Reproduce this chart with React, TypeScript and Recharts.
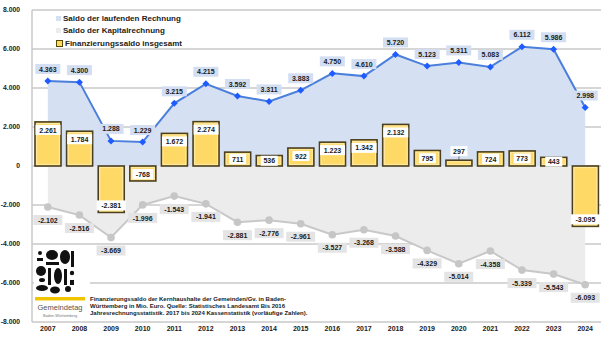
import React from 'react';
import {
  ComposedChart,
  Area,
  Bar,
  XAxis,
  YAxis,
  CartesianGrid,
  Legend
} from 'recharts';

const years = ['2007', '2008', '2009', '2010', '2011', '2012', '2013', '2014', '2015', '2016', '2017', '2018', '2019', '2020', '2021', '2022', '2023', '2024'];
const laufend = [4363, 4300, 1288, 1229, 3215, 4215, 3592, 3311, 3883, 4750, 4610, 5720, 5123, 5311, 5083, 6112, 5986, 2998];
const kapital = [-2102, -2516, -3669, -1996, -1543, -1941, -2881, -2776, -2961, -3527, -3268, -3588, -4329, -5014, -4358, -5339, -5543, -6093];
const finanz = [2261, 1784, -2381, -768, 1672, 2274, 711, 536, 922, 1223, 1342, 2132, 795, 297, 724, 773, 443, -3095];
const yTicks = [-8000, -6000, -4000, -2000, 0, 2000, 4000, 6000, 8000];

const legendItems = [
  { label: 'Saldo der laufenden Rechnung', fill: '#d6e0f3', stroke: 'none' },
  { label: 'Saldo der Kapitalrechnung', fill: '#ececec', stroke: 'none' },
  { label: 'Finanzierungssaldo insgesamt', fill: '#ffd966', stroke: '#5a4a00' }
];

const data = years.map((year, i) => ({
  year,
  laufend: laufend[i],
  kapital: kapital[i],
  finanz: finanz[i]
}));

const FONT = '"Liberation Sans", Arial, sans-serif';

const fmt = (v: number) => {
  const s = Math.abs(v).toString().replace(/\B(?=(\d{3})+(?!\d))/g, '.');
  return (v < 0 ? '-' : '') + s;
};

const BoxLabel = ({ cx, cy, text, fill }: { cx: number; cy: number; text: string; fill: string }) => {
  const w = text.length * 4 + 5;
  return (
    <g>
      <rect x={cx - w / 2} y={cy - 5} width={w} height={10} fill={fill} />
      <text x={cx} y={cy} dy={2.6} textAnchor="middle" fontSize={7} fontWeight={700} fontFamily={FONT} fill="#1a1a1a">
        {text}
      </text>
    </g>
  );
};

const blueDot = (props: any) => {
  const { cx, cy, payload, index } = props;
  if (cx == null || cy == null) return <g key={`bd-${index}`} />;
  return (
    <g key={`bd-${index}`}>
      <path d={`M${cx},${cy - 3.5} L${cx + 3.5},${cy} L${cx},${cy + 3.5} L${cx - 3.5},${cy} Z`} fill="#1f5cff" />
      <BoxLabel cx={cx} cy={cy - 12} text={fmt(payload.laufend)} fill="#d3def2" />
    </g>
  );
};

const greyDot = (props: any) => {
  const { cx, cy, payload, index } = props;
  if (cx == null || cy == null) return <g key={`gd-${index}`} />;
  return (
    <g key={`gd-${index}`}>
      <circle cx={cx} cy={cy} r={3.8} fill="#c6c6c6" />
      <BoxLabel cx={cx} cy={cy + 13} text={fmt(payload.kapital)} fill="#e4e4e4" />
    </g>
  );
};

const FinanzBar = (props: any) => {
  const { x, y, width, height, payload, index } = props;
  const top = Math.min(y, y + height);
  const h = Math.abs(height);
  const v = payload.finanz;
  let labelY = top + 8;
  if (v < 0) labelY = top + h - 7;
  else if (h < 7) labelY = top - 9;
  else if (h < 16) labelY = top + h / 2;
  return (
    <g key={`fb-${index}`}>
      <rect x={x} y={top} width={width} height={h} fill="#ffd966" stroke="#4a4020" strokeWidth={1.6} />
      <rect x={x + 1.6} y={top + 1.6} width={Math.max(width - 3.2, 0)} height={Math.max(h - 3.2, 0)} fill="none" stroke="#ffe9a6" strokeWidth={1} />
      {v > 0 && h < 7 && <line x1={x + width / 2} x2={x + width / 2} y1={labelY + 5} y2={top} stroke="#555" strokeWidth={0.8} />}
      <BoxLabel cx={x + width / 2} cy={labelY} text={fmt(v)} fill="#ffffff" />
    </g>
  );
};

const renderLegend = () => (
  <div style={{ fontFamily: FONT, fontSize: 8, fontWeight: 700, color: '#222' }}>
    {legendItems.map(item => (
      <div key={item.label} style={{ display: 'flex', alignItems: 'center', height: 12.5 }}>
        <span style={{
          display: 'inline-block',
          width: 5,
          height: 5,
          background: item.fill,
          border: item.stroke === 'none' ? 'none' : `1px solid ${item.stroke}`,
          marginRight: 2
        }} />
        {item.label}
      </div>
    ))}
  </div>
);

const Logo = () => (
  <svg width={56} height={72} style={{ display: 'block' }}>
    <rect x={0} y={0} width={56} height={72} fill="#fff" />
    <g fill="#111">
      <circle cx={6} cy={5} r={2} />
      <rect x={3} y={10} width={6} height={3} />
      <ellipse cx={18} cy={7} rx={6} ry={5} />
      <rect x={12} y={14} width={13} height={3} />
      <ellipse cx={31} cy={9} rx={5} ry={7} />
      <rect x={37} y={3} width={3} height={16} />
      <ellipse cx={7} cy={23} rx={5} ry={5} />
      <rect x={14} y={20} width={3} height={17} />
      <ellipse cx={24} cy={28} rx={4} ry={8} />
      <rect x={30} y={21} width={3} height={16} />
      <circle cx={38} cy={25} r={2.2} />
      <ellipse cx={8} cy={40} rx={6} ry={3} />
      <ellipse cx={21} cy={42} rx={5} ry={3.5} />
      <circle cx={34} cy={41} r={3} />
      <ellipse cx={8} cy={32} rx={3} ry={2} />
      <rect x={36} y={32} width={4} height={5} />
    </g>
    <rect x={1} y={49} width={50} height={3.5} fill="#f2c400" />
    <text x={26} y={62} textAnchor="middle" fontSize={7.5} fontFamily={FONT} fill="#555">Gemeindetag</text>
    <text x={26} y={69} textAnchor="middle" fontSize={3.8} fontFamily={FONT} fill="#777">Baden-Württemberg</text>
  </svg>
);

export default function App() {
  return (
    <div style={{ position: 'fixed', left: 0, top: 0, width: 608, height: 342, background: '#fff' }}>
      <ComposedChart
        width={608}
        height={342}
        data={data}
        margin={{ top: 10, right: 7, left: 0, bottom: 0 }}
        barCategoryGap="10%"
      >
        <CartesianGrid vertical={false} stroke="#c8c8c8" strokeWidth={1.5} />
        <XAxis
          dataKey="year"
          height={20}
          axisLine={false}
          tickLine={false}
          tickSize={0}
          tickMargin={4}
          tick={{ fontSize: 7, fontWeight: 700, fill: '#1a1a1a', fontFamily: FONT }}
          interval={0}
        />
        <YAxis
          width={32}
          domain={[-8000, 8000]}
          ticks={yTicks}
          interval={0}
          tickFormatter={fmt}
          axisLine={{ stroke: '#c8c8c8', strokeWidth: 1.5 }}
          tickLine={false}
          tickMargin={6}
          tick={{ fontSize: 6.8, fontWeight: 700, fill: '#1a1a1a', fontFamily: FONT }}
        />
        <Legend
          layout="vertical"
          align="center"
          verticalAlign="middle"
          content={renderLegend}
          wrapperStyle={{ top: 12, left: 56, width: 200, height: 40 }}
        />
        <Area
          type="linear"
          dataKey="laufend"
          stroke="#4a7fdc"
          strokeWidth={2}
          fill="#d6e0f3"
          fillOpacity={1}
          dot={blueDot}
          activeDot={false}
          isAnimationActive={false}
        />
        <Area
          type="linear"
          dataKey="kapital"
          stroke="#c8c8c8"
          strokeWidth={2}
          fill="#ececec"
          fillOpacity={1}
          dot={greyDot}
          activeDot={false}
          isAnimationActive={false}
        />
        <Bar dataKey="finanz" barSize={26} shape={FinanzBar} isAnimationActive={false} />
      </ComposedChart>
      <div style={{ position: 'absolute', left: 34, top: 248 }}>
        <Logo />
      </div>
      <div style={{
        position: 'absolute',
        left: 90,
        top: 296,
        fontFamily: FONT,
        fontSize: 6,
        fontWeight: 700,
        lineHeight: '7px',
        color: '#1a1a1a',
        whiteSpace: 'nowrap'
      }}>
        Finanzierungssaldo der Kernhaushalte der Gemeinden/Gv. in Baden-<br />
        Württemberg in Mio. Euro. Quelle: Statistisches Landesamt Bis 2016<br />
        Jahresrechnungsstatistik. 2017 bis 2024 Kassenstatistik (vorläufige Zahlen).
      </div>
    </div>
  );
}
